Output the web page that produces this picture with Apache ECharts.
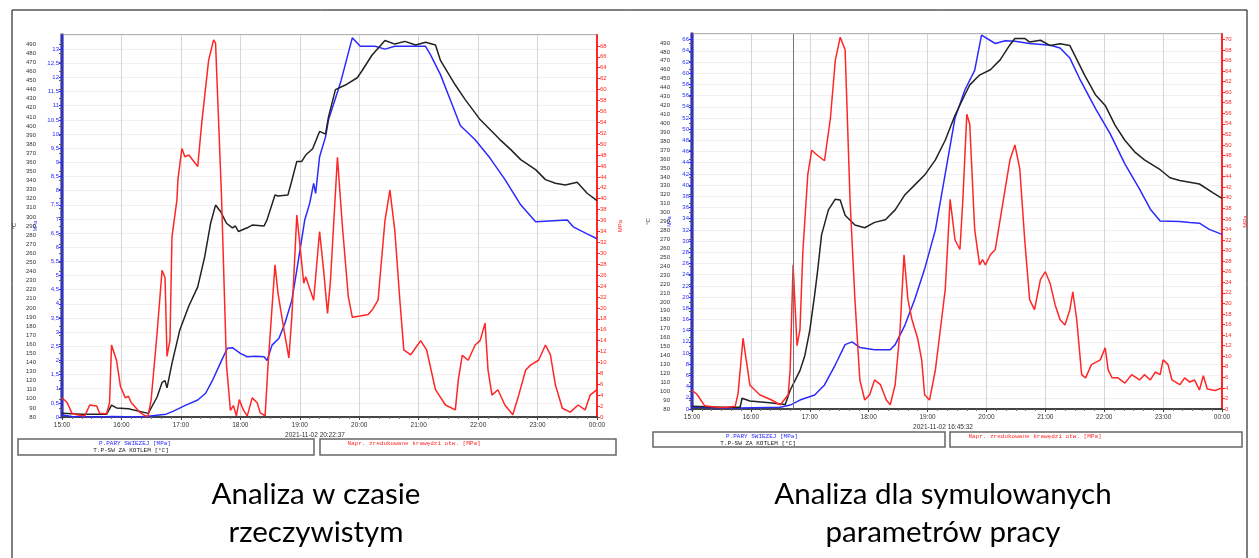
<!DOCTYPE html>
<html>
<head>
<meta charset="utf-8">
<script src="https://cdn.jsdelivr.net/npm/echarts@6/dist/echarts.min.js"></script>
<style>
html, body { margin: 0; padding: 0; background: #fff; }
#main { width: 1259px; height: 558px; }
</style>
</head>
<body>
<div id="main"></div>
<script>
// x values are minutes after 15:00
var hourLabels = ['15:00', '16:00', '17:00', '18:00', '19:00', '20:00', '21:00', '22:00', '23:00', '00:00'];

// left panel: real-time analysis
var leftRed = [[0,3.5],[5,2.7],[10,0.7],[15,0.4],[23,0.2],[28,2.2],[35,2.0],[38,0.7],[45,0.6],[48,2.6],[50,13.2],[55,10.4],[59,5.6],[64,3.5],[67,3.8],[70,2.6],[79,0.8],[84,0.2],[87,0.2],[90,3.2],[96,15.4],[101,26.9],[104,25.5],[106,11.1],[109,14.1],[111,33],[116,39.8],[117,43.5],[121,49.2],[124,47.7],[128,48],[137,45.9],[141,53.8],[148,65.4],[153,69.1],[155,68.5],[161,40.4],[166,9.6],[170,1.2],[173,2.1],[176,0.2],[179,3.2],[183,1.3],[187,0.2],[192,3.5],[197,2.6],[200,0.8],[205,0.2],[208,9.6],[215,27.9],[218,22.7],[224,16],[229,10.8],[232,18.4],[237,37],[240,31.8],[244,24.5],[246,25.7],[254,21.4],[260,34],[264,27],[268,19],[271,25],[278,47.6],[283,35],[289,22],[293,18.3],[301,18.5],[309,18.8],[313,19.6],[319,21.4],[326,36],[331,41.6],[336,34],[341,21.4],[345,12.3],[352,11.4],[362,14],[368,12.3],[377,5],[387,2.2],[397,1.3],[400,6.8],[404,11.3],[410,10.4],[417,13.2],[422,14],[427,17.2],[430,8.6],[434,4],[440,5],[447,2.2],[455,0.4],[461,4],[468,8.6],[473,9.5],[481,10.4],[488,13.2],[493,11.4],[498,5.9],[505,1.6],[513,0.9],[521,2.2],[528,1.3],[533,4],[540,5]];
var leftBlack = [[0,84],[20,83],[45,83],[50,93],[55,90],[67,89],[87,84],[96,102],[101,118],[104,120],[106,112],[111,139],[119,176],[128,202],[137,223],[144,256],[150,293],[155,313],[160,306],[166,293],[172,288],[175,290],[178,284],[187,288],[192,291],[204,290],[207,297],[215,324],[218,323],[228,324],[232,340],[237,361],[242,361],[246,368],[253,375],[260,394],[266,391],[269,410],[276,440],[286,445],[298,453],[303,461],[313,478],[326,494],[336,490],[346,493],[357,489],[367,492],[377,489],[382,472],[397,445],[407,429],[422,407],[432,396],[442,385],[453,374],[463,363],[478,352],[488,341],[498,337],[508,335],[520,338],[530,326],[540,318]];
var leftBlue = [[0,0.07],[10,0.02],[40,0],[50,0.02],[80,0],[105,0.1],[112,0.2],[125,0.42],[137,0.6],[145,0.84],[152,1.3],[162,2.07],[167,2.43],[172,2.45],[180,2.25],[187,2.13],[195,2.15],[204,2.13],[207,2.0],[212,2.54],[219,2.78],[225,3.31],[232,4.13],[237,5.19],[245,6.96],[250,7.55],[254,8.26],[256,7.9],[260,9.2],[266,9.9],[269,10.5],[281,11.8],[293,13.4],[301,13.1],[316,13.1],[326,13.0],[336,13.1],[352,13.1],[367,13.1],[372,12.8],[382,12.1],[392,11.2],[402,10.3],[417,9.8],[432,9.15],[447,8.4],[463,7.5],[478,6.9],[510,6.96],[516,6.72],[530,6.47],[540,6.3]];

// right panel: simulated operating parameters
var rightRed = [[0,3.5],[5,2.8],[13,0.6],[23,0.4],[34,0.3],[44,0.5],[47,3],[52,13.4],[59,4.5],[69,2.7],[81,1.7],[90,0.8],[98,2.7],[100,7.4],[103,27.3],[107,12],[110,15],[113,30],[118,44.4],[122,49],[128,48],[135,47],[141,55],[146,66],[151,70.4],[156,68],[161,39.7],[166,20.7],[171,5.5],[176,1.7],[181,2.7],[186,5.5],[192,4.6],[198,1.7],[202,0.8],[207,4.6],[212,15],[216,29.2],[220,20.7],[224,17],[230,13.3],[234,9.3],[237,2.7],[242,1.7],[248,7.4],[253,15],[258,22.6],[263,39.7],[268,32],[273,30.2],[276,39.7],[280,55.8],[283,53.9],[288,34],[293,27.3],[296,28.3],[299,27.3],[304,29.2],[309,30.2],[314,35.9],[319,41.6],[324,47.2],[329,50],[334,45.4],[339,32],[344,20.7],[349,18.8],[355,24.5],[360,26],[365,23.7],[370,19.7],[375,16.9],[380,15.9],[385,18.8],[388,22.2],[392,16.9],[397,6.5],[401,5.9],[407,8.4],[416,9.3],[421,11.6],[424,7.4],[428,5.9],[434,5.9],[441,4.9],[448,6.5],[456,5.5],[461,6.5],[467,5.5],[472,7],[477,6.5],[480,9.3],[485,8.4],[489,5.5],[497,4.6],[502,5.9],[507,5.1],[512,5.5],[517,3.6],[521,6.3],[525,3.8],[533,3.5],[540,4]];
var rightBlack = [[0,83],[29,82],[49,82],[51,92],[59,89],[79,87],[95,85],[100,101],[105,112],[110,123],[115,140],[120,168],[125,208],[128,235],[132,275],[139,303],[146,315],[151,314],[156,297],[166,286],[176,283],[186,289],[197,292],[207,303],[217,320],[227,331],[237,342],[248,359],[258,381],[268,409],[278,432],[283,443],[293,454],[304,460],[314,471],[324,488],[329,495],[339,495],[344,491],[355,493],[365,487],[375,489],[385,487],[390,476],[400,454],[411,432],[421,420],[431,398],[441,381],[451,368],[461,359],[477,348],[487,339],[497,336],[517,332],[531,322],[540,316]];
var rightBlue = [[0,0.3],[49,0.2],[90,0.3],[100,0.7],[110,1.6],[125,2.5],[135,4.3],[146,7.9],[156,11.5],[163,12],[171,11],[186,10.6],[202,10.6],[207,11.5],[217,15],[227,19.6],[237,25],[248,32],[258,42],[268,52],[278,57],[288,60.5],[295,66.8],[309,65.3],[319,65.8],[329,65.7],[344,65.3],[365,65],[375,64.5],[385,62.7],[395,59],[411,53.7],[426,49.2],[441,43.8],[456,39.3],[467,35.7],[477,33.6],[497,33.5],[507,33.3],[517,33.2],[527,32.1],[540,31.2]];
var rightCursor = 103;

var BLACK = '#222222', BLUE = '#2b2bff', RED = '#ff2626';

function xAxisFor(g) {
	return {
		type: 'value', gridIndex: g, min: 0, max: 540, interval: 60,
		axisLine: { show: true, lineStyle: { color: '#444', width: 2 } },
		axisTick: { show: true, length: 3, lineStyle: { color: '#444' } },
		minorTick: { show: true, splitNumber: 6, length: 2, lineStyle: { color: '#777' } },
		axisLabel: { fontSize: 6.5, color: '#333', margin: 5, formatter: function (v) { return hourLabels[Math.round(v / 60)]; } },
		splitLine: { show: true, lineStyle: { color: '#d6d6d6', width: 1 } }
	};
}

function yAxesFor(g, blackOffset, blueMax, blueInterval, redMax, blueFmt) {
	var lbl = function (c) { return { fontSize: 6, color: c, margin: 3 }; };
	return [{
		type: 'value', gridIndex: g, position: 'left', offset: blackOffset,
		min: 80, max: 500, interval: 10,
		name: '\u00b0C', nameLocation: 'middle', nameRotate: 90, nameGap: 22,
		nameTextStyle: { fontSize: 6, color: '#333' },
		axisLine: { show: true, lineStyle: { color: '#8a8a8a', width: 4 } },
		axisTick: { show: true, length: 3, lineStyle: { color: '#555' } },
		axisLabel: Object.assign(lbl('#333'), { showMaxLabel: false }),
		splitLine: { show: false }
	}, {
		type: 'value', gridIndex: g, position: 'left', offset: 0,
		min: 0, max: blueMax, interval: blueInterval,
		name: 'MPa', nameLocation: 'middle', nameRotate: 90, nameGap: blackOffset + 1,
		nameTextStyle: { fontSize: 5, color: BLUE },
		axisLine: { show: true, lineStyle: { color: BLUE, width: 2 } },
		axisTick: { show: true, length: 3, lineStyle: { color: BLUE } },
		axisLabel: Object.assign(lbl(BLUE), { showMaxLabel: false, formatter: blueFmt }),
		splitLine: { show: true, lineStyle: { color: '#f1f1f1', width: 1 } }
	}, {
		type: 'value', gridIndex: g, position: 'right', offset: 0,
		min: 0, max: redMax, interval: 2,
		name: 'MPa', nameLocation: 'middle', nameRotate: 90, nameGap: 20,
		nameTextStyle: { fontSize: 6, color: RED },
		axisLine: { show: true, lineStyle: { color: RED, width: 2 } },
		axisTick: { show: true, length: 3, lineStyle: { color: RED } },
		axisLabel: Object.assign(lbl(RED), { showMaxLabel: false }),
		splitLine: { show: false }
	}];
}

function line(name, xi, yi, data, color) {
	return {
		type: 'line', name: name, xAxisIndex: xi, yAxisIndex: yi, data: data,
		symbol: 'none', showSymbol: false, animation: false,
		lineStyle: { color: color, width: 1.5 }, itemStyle: { color: color }
	};
}

function txt(x, y, s, size, color, font) {
	return {
		type: 'text', x: x, y: y, z: 10,
		style: { text: s, fontSize: size, fill: color, fontFamily: font || 'Liberation Sans', align: 'center', verticalAlign: 'middle' }
	};
}

function box(x, y, w, h) {
	return {
		type: 'rect', shape: { x: x, y: y, width: w, height: h }, z: 5,
		style: { fill: '#fff', stroke: '#666', lineWidth: 1.5 }
	};
}

var commaFmt = function (v) { return String(v).replace('.', ','); };

var chart = echarts.init(document.getElementById('main'));
var option = {
	backgroundColor: '#fff',
	animation: false,
	grid: [
		{ left: 62, top: 35, width: 535, height: 382, show: true, borderColor: '#9a9a9a', borderWidth: 1.5, backgroundColor: '#fff' },
		{ left: 692, top: 34, width: 530, height: 375, show: true, borderColor: '#9a9a9a', borderWidth: 1.5, backgroundColor: '#fff' }
	],
	xAxis: [xAxisFor(0), xAxisFor(1)],
	yAxis: yAxesFor(0, 23, 13.5, 0.5, 70, commaFmt).concat(yAxesFor(1, 19, 67, 2, 71, null)),
	series: [
		line('P.PARY SWIEZEJ', 0, 1, leftBlue, BLUE),
		line('T.P-SW ZA KOTLEM', 0, 0, leftBlack, BLACK),
		line('Napr. zredukowane kraw\u0119dzi otw.', 0, 2, leftRed, RED),
		line('P.PARY SWIEZEJ', 1, 4, rightBlue, BLUE),
		line('T.P-SW ZA KOTLEM', 1, 3, rightBlack, BLACK),
		Object.assign(line('Napr. zredukowane kraw\u0119dzi otw.', 1, 5, rightRed, RED), {
			markLine: {
				silent: true, symbol: 'none', animation: false,
				label: { show: false },
				lineStyle: { color: '#777', width: 1, type: 'solid' },
				data: [{ xAxis: rightCursor }]
			}
		})
	],
	graphic: [
		{ type: 'rect', shape: { x: 12, y: 10, width: 1235, height: 560 }, style: { fill: 'none', stroke: '#000', lineWidth: 1 } },
		txt(315, 435, '2021-11-02 20:22:37', 6.5, '#333'),
		box(18, 439, 296, 16), box(320, 439, 296, 16),
		txt(135, 443.5, 'P.PARY SWIEZEJ [MPa]', 6, BLUE, 'Liberation Mono'),
		txt(131, 450, 'T.P-SW ZA KOTLEM [\u00b0C]', 6, '#222', 'Liberation Mono'),
		txt(414, 443.5, 'Napr. zredukowane kraw\u0119dzi otw. [MPa]', 6, RED, 'Liberation Mono'),
		txt(943, 427, '2021-11-02 16:45:32', 6.5, '#333'),
		box(653, 432, 292, 15), box(950, 432, 292, 15),
		txt(762, 436.5, 'P.PARY SWIEZEJ [MPa]', 6, BLUE, 'Liberation Mono'),
		txt(758, 443, 'T.P-SW ZA KOTLEM [\u00b0C]', 6, '#222', 'Liberation Mono'),
		txt(1035, 436.5, 'Napr. zredukowane kraw\u0119dzi otw. [MPa]', 6, RED, 'Liberation Mono'),
		txt(316, 494, 'Analiza w czasie', 29.5, '#000', 'Lato'),
		txt(316, 532, 'rzeczywistym', 29.5, '#000', 'Lato'),
		txt(943, 494, 'Analiza dla symulowanych', 29.5, '#000', 'Lato'),
		txt(943, 532, 'parametr\u00f3w pracy', 29.5, '#000', 'Lato')
	]
};
chart.setOption(option);
</script>
</body>
</html>
